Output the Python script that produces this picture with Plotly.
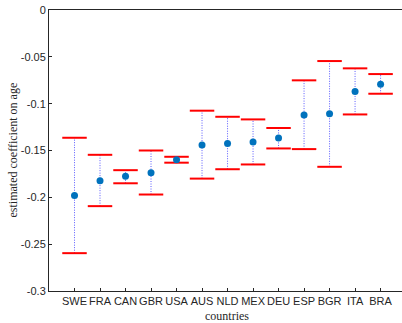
import plotly.graph_objects as go

countries = ["SWE", "FRA", "CAN", "GBR", "USA", "AUS", "NLD", "MEX", "DEU", "ESP", "BGR", "ITA", "BRA"]
estimate = [-0.198, -0.1823, -0.1774, -0.1738, -0.160, -0.144, -0.1424, -0.141, -0.1367, -0.1122, -0.1108, -0.0869, -0.0794]
upper = [-0.1364, -0.1546, -0.171, -0.150, -0.1567, -0.1075, -0.114, -0.1168, -0.126, -0.0751, -0.0545, -0.0623, -0.0684]
lower = [-0.2596, -0.2094, -0.185, -0.197, -0.163, -0.180, -0.170, -0.1649, -0.1478, -0.1485, -0.1674, -0.1115, -0.0894]
yticks = [0, -0.05, -0.1, -0.15, -0.2, -0.25, -0.3]
ytick_text = ["0", "-0.05", "-0.1", "-0.15", "-0.2", "-0.25", "-0.3"]

W, H = 402, 323
ML, MT, MB, MR = 49, 10, 32, 0
half = 0.48
pos = list(range(1, len(countries) + 1))

fig = go.Figure()

# dotted vertical interval lines
vx, vy = [], []
for p, lo, hi in zip(pos, lower, upper):
    vx += [p, p, None]
    vy += [lo, hi, None]
fig.add_trace(go.Scatter(x=vx, y=vy, mode="lines",
                         line=dict(color="#5a5aff", width=1, dash="1px,1.5px"),
                         hoverinfo="skip", showlegend=False))

# red caps
cx, cy = [], []
for p, lo, hi in zip(pos, lower, upper):
    cx += [p - half, p + half, None, p - half, p + half, None]
    cy += [hi, hi, None, lo, lo, None]
fig.add_trace(go.Scatter(x=cx, y=cy, mode="lines",
                         line=dict(color="#ff0000", width=2),
                         hoverinfo="skip", showlegend=False))

# point estimates
fig.add_trace(go.Scatter(x=pos, y=estimate, mode="markers",
                         marker=dict(color="#0072BD", size=7, symbol="circle"),
                         showlegend=False))

axis_col = "#262626"
fig.update_layout(
    width=W, height=H,
    margin=dict(l=ML, r=MR, t=MT, b=MB, pad=0),
    paper_bgcolor="white", plot_bgcolor="white",
    font=dict(family="Liberation Sans, Arial, sans-serif", size=11, color=axis_col),
    xaxis=dict(range=[0, 13.84], tickvals=pos, ticktext=countries, tickangle=0,
               showgrid=False, zeroline=False,
               showline=True, linecolor=axis_col, linewidth=1, mirror=True,
               ticks="inside", ticklen=3, tickcolor=axis_col, tickwidth=1,
               tickfont=dict(size=11, color=axis_col)),
    yaxis=dict(range=[-0.3, 0], tickvals=yticks, ticktext=ytick_text,
               showgrid=False, zeroline=False,
               showline=True, linecolor=axis_col, linewidth=1, mirror=False,
               ticks="inside", ticklen=3, tickcolor=axis_col, tickwidth=1,
               tickfont=dict(size=11, color=axis_col)),
    annotations=[
        dict(text="countries", xref="paper", yref="paper",
             x=(227 - ML) / (W - ML - MR), y=-(316 - (H - MB)) / (H - MT - MB),
             xanchor="center", yanchor="middle", showarrow=False,
             font=dict(family="Liberation Serif, Times New Roman, serif", size=12, color=axis_col)),
        dict(text="estimated coefficient on age", xref="paper", yref="paper",
             x=-(ML - 12) / (W - ML - MR), y=0.5, textangle=-90,
             xanchor="center", yanchor="middle", showarrow=False,
             font=dict(family="Liberation Serif, Times New Roman, serif", size=12, color=axis_col)),
    ],
)

fig.write_html("out.html")
